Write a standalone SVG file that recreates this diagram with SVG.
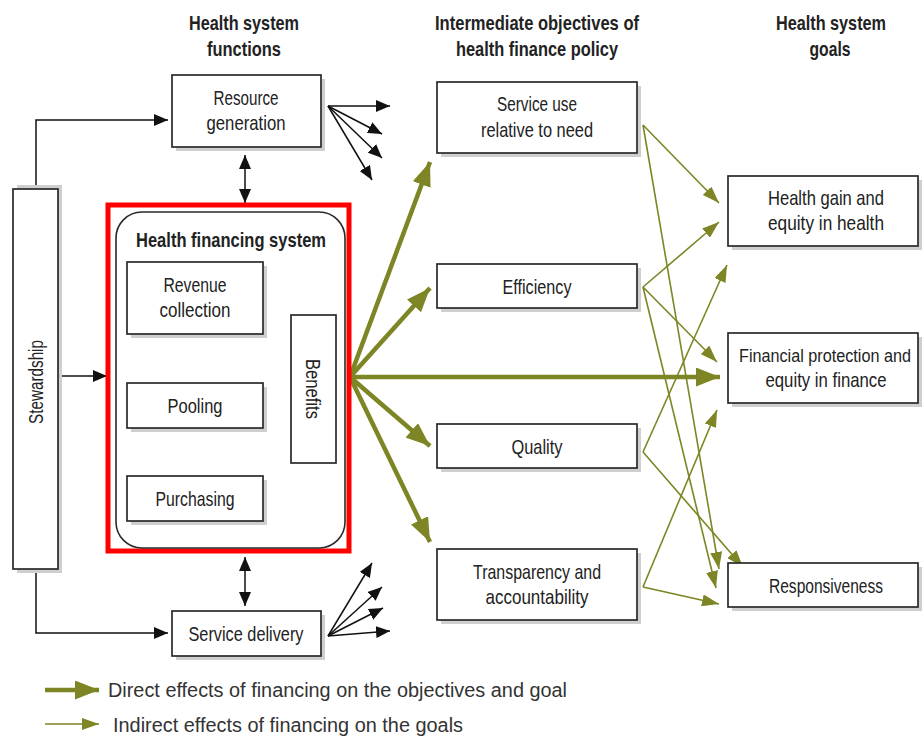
<svg xmlns="http://www.w3.org/2000/svg" width="922" height="740" viewBox="0 0 922 740">
<style>
.bx{fill:#fff;stroke:#2a2a2a;stroke-width:1.7}
.sh{fill:#cfcfcf}
.t{font-family:"Liberation Sans","Arial",sans-serif;font-size:21px;fill:#222;text-anchor:middle}
.b{font-weight:bold}
.lg{font-family:"Liberation Sans","Open Sans",sans-serif;font-size:20px;fill:#333}
.k{fill:none;stroke:#111;stroke-width:1.5}
.thick{fill:none;stroke:#7d8524;stroke-width:4.5}
.thin{fill:none;stroke:#7d8524;stroke-width:1.6}
</style>
<defs>
<marker id="ak" markerUnits="userSpaceOnUse" markerWidth="14" markerHeight="12" refX="14" refY="6" orient="auto-start-reverse"><path d="M0,0L14,6L0,12z" fill="#111"/></marker>
<marker id="ao" markerUnits="userSpaceOnUse" markerWidth="24" markerHeight="19" refX="24" refY="9.5" orient="auto"><path d="M0,0L24,9.5L0,19z" fill="#7d8524"/></marker>
<marker id="at" markerUnits="userSpaceOnUse" markerWidth="17" markerHeight="12" refX="17" refY="6" orient="auto"><path d="M0,0L17,6L0,12z" fill="#7d8524"/></marker>
</defs>
<rect width="922" height="740" fill="#fff"/>

<g id="headers">
<text class="t b" x="244" y="30" textLength="110" lengthAdjust="spacingAndGlyphs">Health system</text>
<text class="t b" x="244" y="56" textLength="74" lengthAdjust="spacingAndGlyphs">functions</text>
<text class="t b" x="537" y="30" textLength="204" lengthAdjust="spacingAndGlyphs">Intermediate objectives of</text>
<text class="t b" x="537" y="56" textLength="162" lengthAdjust="spacingAndGlyphs">health finance policy</text>
<text class="t b" x="831" y="30" textLength="110" lengthAdjust="spacingAndGlyphs">Health system</text>
<text class="t b" x="830" y="56" textLength="41" lengthAdjust="spacingAndGlyphs">goals</text>
</g>

<g id="connectors">
<polyline class="k" points="36,189 36,120 168,120" marker-end="url(#ak)"/>
<polyline class="k" points="36,569 36,633 168,633" marker-end="url(#ak)"/>
<line class="k" x1="58" y1="376" x2="107" y2="376" marker-end="url(#ak)"/>
<line class="k" x1="195" y1="334" x2="195" y2="381" marker-end="url(#ak)"/>
<line class="k" x1="195" y1="428" x2="195" y2="474" marker-end="url(#ak)"/>
<line class="k" x1="245" y1="155" x2="245" y2="203" marker-start="url(#ak)" marker-end="url(#ak)"/>
<line class="k" x1="245" y1="557" x2="245" y2="606" marker-start="url(#ak)" marker-end="url(#ak)"/>
<line class="k" x1="328" y1="106" x2="390" y2="106" marker-end="url(#ak)"/>
<line class="k" x1="328" y1="106" x2="382" y2="134" marker-end="url(#ak)"/>
<line class="k" x1="328" y1="106" x2="382" y2="158" marker-end="url(#ak)"/>
<line class="k" x1="328" y1="106" x2="372" y2="180" marker-end="url(#ak)"/>
<line class="k" x1="328" y1="636" x2="390" y2="631" marker-end="url(#ak)"/>
<line class="k" x1="328" y1="636" x2="383" y2="608" marker-end="url(#ak)"/>
<line class="k" x1="328" y1="636" x2="382" y2="587" marker-end="url(#ak)"/>
<line class="k" x1="328" y1="636" x2="372" y2="563" marker-end="url(#ak)"/>
<line class="thick" x1="350" y1="377" x2="430" y2="162" marker-end="url(#ao)"/>
<line class="thick" x1="350" y1="377" x2="430" y2="288" marker-end="url(#ao)"/>
<line class="thick" x1="350" y1="377" x2="720" y2="377" marker-end="url(#ao)"/>
<line class="thick" x1="350" y1="377" x2="430" y2="446" marker-end="url(#ao)"/>
<line class="thick" x1="350" y1="377" x2="430" y2="542" marker-end="url(#ao)"/>
<line class="thin" x1="643" y1="125" x2="719" y2="203" marker-end="url(#at)"/>
<line class="thin" x1="643" y1="125" x2="719" y2="569" marker-end="url(#at)"/>
<line class="thin" x1="643" y1="287" x2="719" y2="222" marker-end="url(#at)"/>
<line class="thin" x1="643" y1="287" x2="717" y2="362" marker-end="url(#at)"/>
<line class="thin" x1="643" y1="287" x2="716" y2="588" marker-end="url(#at)"/>
<line class="thin" x1="643" y1="452" x2="727" y2="265" marker-end="url(#at)"/>
<line class="thin" x1="643" y1="452" x2="743" y2="567" marker-end="url(#at)"/>
<line class="thin" x1="643" y1="587" x2="717" y2="410" marker-end="url(#at)"/>
<line class="thin" x1="643" y1="587" x2="719" y2="604" marker-end="url(#at)"/>
</g>

<g id="resource-generation">
<rect class="sh" x="176" y="79" width="149" height="72"/>
<rect class="bx" x="172" y="75" width="149" height="72"/>
<text class="t" x="246" y="105" textLength="65" lengthAdjust="spacingAndGlyphs">Resource</text>
<text class="t" x="246" y="130" textLength="79" lengthAdjust="spacingAndGlyphs">generation</text>
</g>
<g id="stewardship">
<rect class="sh" x="17" y="185" width="45" height="388"/>
<rect class="bx" x="13" y="189" width="45" height="380"/>
<text class="t" transform="translate(43,382) rotate(-90)" x="0" y="0" textLength="84" lengthAdjust="spacingAndGlyphs">Stewardship</text>
</g>
<g id="health-financing-system">
<rect x="108" y="205" width="241" height="346" fill="none" stroke="#ff0000" stroke-width="5"/>
<rect x="116" y="212" width="229" height="336" rx="26" fill="#fff" stroke="#2a2a2a" stroke-width="1.6"/>
<text class="t b" x="231" y="247" textLength="190" lengthAdjust="spacingAndGlyphs">Health financing system</text>
</g>
<g id="revenue-collection">
<rect class="sh" x="131" y="266" width="136" height="72"/>
<rect class="bx" x="127" y="262" width="136" height="72"/>
<text class="t" x="195" y="292" textLength="63" lengthAdjust="spacingAndGlyphs">Revenue</text>
<text class="t" x="195" y="317" textLength="71" lengthAdjust="spacingAndGlyphs">collection</text>
</g>
<g id="pooling">
<rect class="sh" x="131" y="387" width="136" height="45"/>
<rect class="bx" x="127" y="383" width="136" height="45"/>
<text class="t" x="195" y="413" textLength="55" lengthAdjust="spacingAndGlyphs">Pooling</text>
</g>
<g id="purchasing">
<rect class="sh" x="131" y="480" width="136" height="45"/>
<rect class="bx" x="127" y="476" width="136" height="45"/>
<text class="t" x="195" y="506" textLength="79" lengthAdjust="spacingAndGlyphs">Purchasing</text>
</g>
<g id="benefits">
<rect class="bx" x="291" y="315" width="45" height="148"/>
<text class="t" transform="translate(306,389) rotate(90)" x="0" y="0" textLength="60" lengthAdjust="spacingAndGlyphs">Benefits</text>
</g>
<g id="service-delivery">
<rect class="sh" x="176" y="615" width="149" height="45"/>
<rect class="bx" x="172" y="611" width="149" height="45"/>
<text class="t" x="246" y="641" textLength="115" lengthAdjust="spacingAndGlyphs">Service delivery</text>
</g>

<g id="service-use">
<rect class="sh" x="441" y="86" width="200" height="71"/>
<rect class="bx" x="437" y="82" width="200" height="71"/>
<text class="t" x="537" y="111" textLength="80" lengthAdjust="spacingAndGlyphs">Service use</text>
<text class="t" x="537" y="137" textLength="112" lengthAdjust="spacingAndGlyphs">relative to need</text>
</g>
<g id="efficiency">
<rect class="sh" x="441" y="268" width="200" height="44"/>
<rect class="bx" x="437" y="264" width="200" height="44"/>
<text class="t" x="537" y="294" textLength="69" lengthAdjust="spacingAndGlyphs">Efficiency</text>
</g>
<g id="quality">
<rect class="sh" x="441" y="428" width="200" height="44"/>
<rect class="bx" x="437" y="424" width="200" height="44"/>
<text class="t" x="537" y="454" textLength="51" lengthAdjust="spacingAndGlyphs">Quality</text>
</g>
<g id="transparency">
<rect class="sh" x="441" y="553" width="200" height="71"/>
<rect class="bx" x="437" y="549" width="200" height="71"/>
<text class="t" x="537" y="579" textLength="128" lengthAdjust="spacingAndGlyphs">Transparency and</text>
<text class="t" x="537" y="604" textLength="103" lengthAdjust="spacingAndGlyphs">accountability</text>
</g>

<g id="health-gain">
<rect class="sh" x="732" y="180" width="190" height="70"/>
<rect class="bx" x="728" y="176" width="190" height="70"/>
<text class="t" x="826" y="205" textLength="116" lengthAdjust="spacingAndGlyphs">Health gain and</text>
<text class="t" x="826" y="230" textLength="116" lengthAdjust="spacingAndGlyphs">equity in health</text>
</g>
<g id="financial-protection">
<rect class="sh" x="732" y="337" width="190" height="70"/>
<rect class="bx" x="728" y="333" width="190" height="70"/>
<text class="t" x="825" y="362" style="font-size:17.5px" textLength="172" lengthAdjust="spacingAndGlyphs">Financial protection and</text>
<text class="t" x="826" y="387" textLength="121" lengthAdjust="spacingAndGlyphs">equity in finance</text>
</g>
<g id="responsiveness">
<rect class="sh" x="732" y="567" width="190" height="44"/>
<rect class="bx" x="728" y="563" width="190" height="44"/>
<text class="t" x="826" y="593" textLength="114" lengthAdjust="spacingAndGlyphs">Responsiveness</text>
</g>

<g id="legend">
<line class="thick" x1="45" y1="690" x2="99" y2="690" marker-end="url(#ao)"/>
<text class="lg" x="108" y="697" textLength="459" lengthAdjust="spacingAndGlyphs">Direct effects of financing on the objectives and goal</text>
<line class="thin" x1="45" y1="724" x2="99" y2="724" marker-end="url(#at)"/>
<text class="lg" x="113" y="732" textLength="350" lengthAdjust="spacingAndGlyphs">Indirect effects of financing on the goals</text>
</g>
</svg>
